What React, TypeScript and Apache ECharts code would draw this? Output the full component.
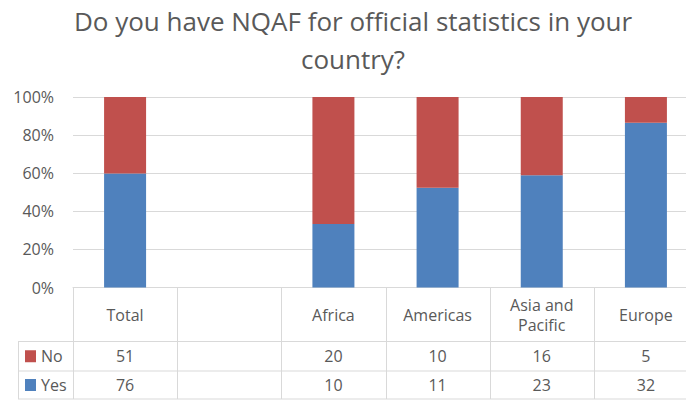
import React, { useEffect, useRef } from "react";
import * as echarts from "echarts";

// Survey responses per region (blank column is an empty spacer in the table)
const categories = ["Total", "", "Africa", "Americas", "Asia and\nPacific", "Europe"];
const noCounts: (number | null)[] = [51, null, 20, 10, 16, 5];
const yesCounts: (number | null)[] = [76, null, 10, 11, 23, 32];
const yTicks = [0, 0.2, 0.4, 0.6, 0.8, 1];

const TITLE_LINE1 = "Do you have NQAF for official statistics in your";
const TITLE_LINE2 = "country?";

const RED = "#C0504D";
const BLUE = "#4F81BD";
const GRID = "#D9D9D9";
const TEXT = "#595959";
const FONT = "'Open Sans', 'Noto Sans', sans-serif";

const CHART_W = 698;
const CHART_H = 402;
const PLOT_LEFT = 73;
const PLOT_TOP = 97;
const AXIS_Y = 287.5;
const COL_W = (CHART_W - PLOT_LEFT) / categories.length;
const ROW_NO_TOP = 341.5;
const ROW_YES_TOP = 371;
const TABLE_BOTTOM = 399;
const LEGEND_LEFT = 18;

function share(part: number | null, other: number | null): number | null {
  if (part == null || other == null) return null;
  return part / (part + other);
}

export default function App() {
  const ref = useRef<HTMLDivElement>(null);

  useEffect(() => {
    if (!ref.current) return;
    const chart = echarts.init(ref.current, null, { renderer: "svg" });

    const yesShare = yesCounts.map((v, i) => share(v, noCounts[i]));
    const noShare = noCounts.map((v, i) => share(v, yesCounts[i]));

    const lineStyle = { stroke: GRID, lineWidth: 1 };
    const graphics: any[] = [];

    // horizontal table rules
    [ROW_NO_TOP, ROW_YES_TOP, TABLE_BOTTOM].forEach((y) => {
      graphics.push({
        type: "line",
        silent: true,
        shape: { x1: LEGEND_LEFT, y1: y, x2: CHART_W, y2: y },
        style: lineStyle,
      });
    });
    // legend column left rule
    graphics.push({
      type: "line",
      silent: true,
      shape: { x1: LEGEND_LEFT + 0.5, y1: ROW_NO_TOP, x2: LEGEND_LEFT + 0.5, y2: TABLE_BOTTOM },
      style: lineStyle,
    });
    // column rules
    for (let k = 0; k <= categories.length; k++) {
      const x = Math.round(PLOT_LEFT + k * COL_W) + 0.5;
      graphics.push({
        type: "line",
        silent: true,
        shape: { x1: x, y1: AXIS_Y, x2: x, y2: TABLE_BOTTOM },
        style: lineStyle,
      });
    }

    // legend keys, row names and counts
    const rows = [
      { name: "No", color: RED, values: noCounts, top: ROW_NO_TOP, bottom: ROW_YES_TOP },
      { name: "Yes", color: BLUE, values: yesCounts, top: ROW_YES_TOP, bottom: TABLE_BOTTOM },
    ];
    rows.forEach((row) => {
      const cy = (row.top + row.bottom) / 2;
      graphics.push({
        type: "rect",
        silent: true,
        shape: { x: 25, y: cy - 6, width: 11, height: 12 },
        style: { fill: row.color },
      });
      graphics.push({
        type: "text",
        silent: true,
        x: 41,
        y: cy,
        style: {
          text: row.name,
          fill: TEXT,
          font: `16px ${FONT}`,
          verticalAlign: "middle",
          align: "left",
        },
      });
      row.values.forEach((v, i) => {
        if (v == null) return;
        graphics.push({
          type: "text",
          silent: true,
          x: PLOT_LEFT + (i + 0.5) * COL_W,
          y: cy,
          style: {
            text: String(v),
            fill: TEXT,
            font: `16px ${FONT}`,
            align: "center",
            verticalAlign: "middle",
          },
        });
      });
    });

    // title
    [TITLE_LINE1, TITLE_LINE2].forEach((line, i) => {
      graphics.push({
        type: "text",
        silent: true,
        x: 353,
        y: 21 + i * 37.5,
        style: {
          text: line,
          fill: TEXT,
          font: `26px ${FONT}`,
          align: "center",
          verticalAlign: "middle",
        },
      });
    });

    chart.setOption({
      animation: false,
      backgroundColor: "#ffffff",
      grid: {
        left: PLOT_LEFT,
        top: PLOT_TOP,
        right: 0,
        bottom: CHART_H - AXIS_Y,
        containLabel: false,
      },
      xAxis: {
        type: "category",
        data: categories,
        axisLine: { show: true, lineStyle: { color: GRID, width: 1 } },
        axisTick: { show: false },
        axisLabel: {
          interval: 0,
          margin: 27,
          verticalAlign: "middle",
          color: TEXT,
          fontSize: 16,
          fontFamily: FONT,
          lineHeight: 20,
        },
      },
      yAxis: {
        type: "value",
        min: 0,
        max: 1,
        interval: 0.2,
        axisLine: { show: false },
        axisTick: { show: false },
        splitLine: { lineStyle: { color: GRID, width: 1 } },
        axisLabel: {
          margin: 19,
          color: TEXT,
          fontSize: 16,
          fontFamily: FONT,
          formatter: (v: number) => {
            const hit = yTicks.find((t) => Math.abs(t - v) < 1e-9);
            return `${Math.round((hit ?? v) * 100)}%`;
          },
        },
      },
      series: [
        {
          name: "Yes",
          type: "bar",
          stack: "share",
          barWidth: 42,
          data: yesShare,
          itemStyle: { color: BLUE },
        },
        {
          name: "No",
          type: "bar",
          stack: "share",
          barWidth: 42,
          data: noShare,
          itemStyle: { color: RED },
        },
      ],
      graphic: graphics,
    });

    return () => chart.dispose();
  }, []);

  return (
    <div
      style={{
        position: "fixed",
        left: 0,
        top: 0,
        width: 686,
        height: 402,
        overflow: "hidden",
        background: "#fff",
      }}
    >
      <div ref={ref} style={{ width: CHART_W, height: CHART_H }} />
    </div>
  );
}
